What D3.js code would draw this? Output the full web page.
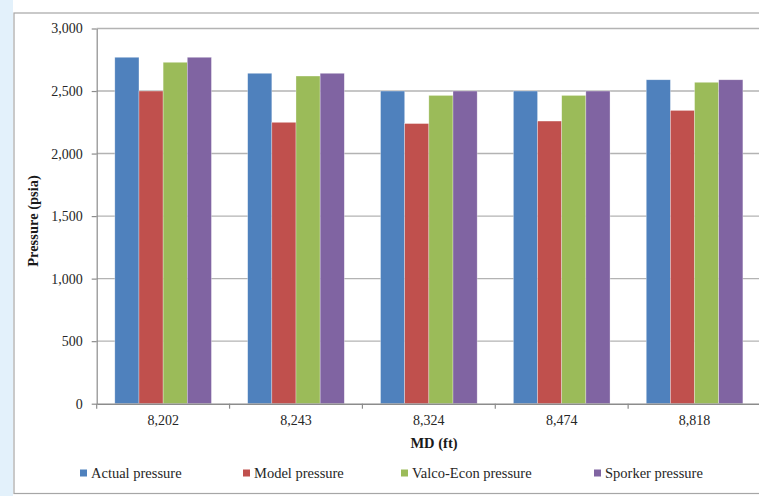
<!DOCTYPE html>
<html><head><meta charset="utf-8">
<script src="https://cdn.jsdelivr.net/npm/d3@7"></script>
<style>
html,body{margin:0;padding:0;background:#fff;}
svg{display:block;}
</style></head>
<body>
<svg id="chart" width="759" height="496"></svg>
<script>
const categories = ["8,202", "8,243", "8,324", "8,474", "8,818"];
const seriesNames = ["Actual pressure", "Model pressure", "Valco-Econ pressure", "Sporker pressure"];
const actualPressure = [2770, 2642, 2500, 2500, 2590];
const modelPressure  = [2500, 2250, 2240, 2260, 2345];
const valcoPressure  = [2730, 2620, 2465, 2465, 2570];
const sporkerPressure = [2770, 2642, 2500, 2500, 2590];
const seriesColors = ["#4f81bd", "#c0504d", "#9bbb59", "#8064a2"];
const yTicks = [0, 500, 1000, 1500, 2000, 2500, 3000];

const seriesValues = [actualPressure, modelPressure, valcoPressure, sporkerPressure];
const svg = d3.select("#chart");
const W = 759, H = 496;
const font = "'Liberation Serif', 'Times New Roman', serif";

// left light strip & frame
svg.append("rect").attr("x",0).attr("y",0).attr("width",W).attr("height",H).attr("fill","#fff");
svg.append("rect").attr("x",0).attr("y",0).attr("width",13).attr("height",H).attr("fill","#e3f1fb");
svg.append("rect").attr("x",14).attr("y",13).attr("width",W+20).attr("height",481-0.5)
  .attr("fill","#fff").attr("stroke","#a6a6a6").attr("stroke-width",1.2);

const plotLeft = 96.7, plotRight = 761, plotTop = 28.5, plotBottom = 403.7;
const x0 = d3.scaleBand().domain(categories).range([plotLeft, plotRight]).paddingInner(0).paddingOuter(0);
const x1 = d3.scaleBand().domain(seriesNames).range([0, x0.bandwidth()]).paddingInner(0).paddingOuter(0.75);
const y = d3.scaleLinear().domain([0, 3000]).range([plotBottom, plotTop]);

// gridlines
svg.append("g").selectAll("line").data(yTicks.filter(d=>d>0)).join("line")
  .attr("x1", plotLeft).attr("x2", W).attr("y1", d=>y(d)).attr("y2", d=>y(d))
  .attr("stroke","#b3b3b3").attr("stroke-width",1.4);

// bars
const groups = svg.append("g").selectAll("g").data(categories).join("g")
  .attr("transform", c => `translate(${x0(c)},0)`);
groups.selectAll("rect").data((c,i) => seriesNames.map((s,j) => ({s, v: seriesValues[j][i], j})))
  .join("rect")
  .attr("x", d => x1(d.s)).attr("width", x1.bandwidth())
  .attr("y", d => y(d.v)).attr("height", d => y(0) - y(d.v))
  .attr("fill", d => seriesColors[d.j])
  .attr("stroke", "rgba(255,255,255,0.5)").attr("stroke-width", 0.6);

// y axis
const yAxis = d3.axisLeft(y).tickValues(yTicks).tickFormat(d3.format(",")).tickSizeInner(5).tickSizeOuter(0).tickPadding(9);
const gy = svg.append("g").attr("transform",`translate(${plotLeft},0)`).call(yAxis);
gy.select(".domain").attr("stroke","#8c8c8c").attr("stroke-width",1.2);
gy.selectAll(".tick line").attr("stroke","#8c8c8c").attr("stroke-width",1.2);
gy.selectAll("text").attr("font-family",font).attr("font-size",14).attr("fill","#262626");

// x axis
const xAxis = d3.axisBottom(x0).tickSize(0).tickPadding(11);
const gx = svg.append("g").attr("transform",`translate(0,${plotBottom})`).call(xAxis);
gx.select(".domain").attr("stroke","#8c8c8c").attr("stroke-width",1.4);
gx.selectAll("text").attr("font-family",font).attr("font-size",14).attr("fill","#262626");
// boundary ticks
gx.append("g").selectAll("line").data(categories).join("line")
  .attr("x1", c => x0(c)).attr("x2", c => x0(c)).attr("y1",0).attr("y2",5)
  .attr("stroke","#8c8c8c").attr("stroke-width",1.2);

// axis titles
svg.append("text").attr("transform","translate(38,221) rotate(-90)")
  .attr("text-anchor","middle").attr("font-family",font).attr("font-weight","bold")
  .attr("font-size",14.5).attr("fill","#1a1a1a").text("Pressure (psia)");
svg.append("text").attr("x",434).attr("y",448)
  .attr("text-anchor","middle").attr("font-family",font).attr("font-weight","bold")
  .attr("font-size",14.5).attr("fill","#1a1a1a").text("MD (ft)");

// legend
const legendX = [80, 243, 401, 594];
const lg = svg.append("g").selectAll("g").data(seriesNames).join("g")
  .attr("transform",(d,i)=>`translate(${legendX[i]},473)`);
lg.append("rect").attr("x",0).attr("y",-3.5).attr("width",7).attr("height",7)
  .attr("fill",(d,i)=>seriesColors[i]);
lg.append("text").attr("x",11).attr("y",5).attr("font-family",font).attr("font-size",14.5)
  .attr("fill","#262626").text(d=>d);
</script>
</body></html>
